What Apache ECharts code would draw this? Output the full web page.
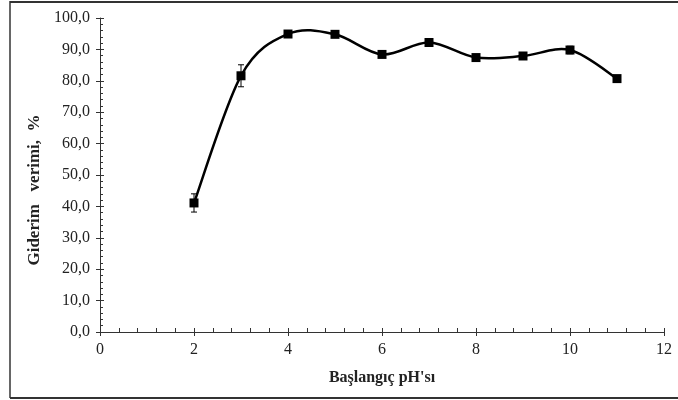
<!DOCTYPE html>
<html><head><meta charset="utf-8">
<script src="https://cdn.jsdelivr.net/npm/echarts@6/dist/echarts.min.js"></script>
<style>html,body{margin:0;padding:0;background:#fff}#c{width:678px;height:400px}</style>
</head><body><div id="c"></div>
<script>
const phValues = [2, 3, 4, 5, 6, 7, 8, 9, 10, 11];
const removalEff = [41.1, 81.6, 94.9, 94.8, 88.4, 92.2, 87.4, 87.9, 89.8, 80.7];
const errValues = [2.9, 3.5, 0.8, 0.8, 1.0, 0.8, 0.8, 0.8, 1.2, 0.8];
const xTitle = "Başlangıç pH'sı";
const yTitle = "Giderim   verimi,  %";

const lineData = phValues.map((x, i) => [x, removalEff[i]]);
const errData = phValues.map((x, i) => [x, removalEff[i] - errValues[i], removalEff[i] + errValues[i]]);

const chart = echarts.init(document.getElementById('c'), null, {renderer: 'canvas'});
const font = "'Liberation Serif', 'Times New Roman', serif";
const axisCol = '#333';
const labelCol = '#222';

function curveItem(params, api) {
  if (params.dataIndex !== 0) return null;
  const pts = lineData.map(d => api.coord(d));
  const n = pts.length;
  let d = 'M' + pts[0][0] + ' ' + pts[0][1];
  for (let i = 0; i < n - 1; i++) {
    const p0 = pts[Math.max(i - 1, 0)], p1 = pts[i], p2 = pts[i + 1], p3 = pts[Math.min(i + 2, n - 1)];
    const c1x = p1[0] + (p2[0] - p0[0]) / 6, c1y = p1[1] + (p2[1] - p0[1]) / 6;
    const c2x = p2[0] - (p3[0] - p1[0]) / 6, c2y = p2[1] - (p3[1] - p1[1]) / 6;
    d += ' C' + c1x + ' ' + c1y + ' ' + c2x + ' ' + c2y + ' ' + p2[0] + ' ' + p2[1];
  }
  return {type: 'path', shape: {pathData: d}, style: {fill: null, stroke: '#000', lineWidth: 2.5}};
}

chart.setOption({
  animation: false,
  backgroundColor: '#fff',
  graphic: [
    {type: 'line', shape: {x1: 10, y1: 2, x2: 678, y2: 2}, style: {stroke: '#333', lineWidth: 2}},
    {type: 'line', shape: {x1: 10, y1: 1, x2: 10, y2: 398}, style: {stroke: '#333', lineWidth: 1.5}},
    {type: 'line', shape: {x1: 10, y1: 398, x2: 678, y2: 398}, style: {stroke: '#333', lineWidth: 2}}
  ],
  grid: {left: 100, right: 14, top: 18, bottom: 68},
  xAxis: [{
    type: 'value', min: 0, max: 12, interval: 2,
    name: xTitle, nameLocation: 'middle', nameGap: 38,
    nameTextStyle: {fontFamily: font, fontWeight: 'bold', fontSize: 16, color: labelCol},
    axisLine: {show: true, lineStyle: {color: axisCol, width: 1}},
    axisTick: {show: true, inside: false, length: 4, lineStyle: {color: axisCol}},
    axisLabel: {fontFamily: font, fontSize: 16, color: labelCol, margin: 10},
    splitLine: {show: false}
  }, {
    type: 'value', min: 0, max: 12, interval: 2, position: 'bottom',
    axisLine: {show: false}, axisLabel: {show: false}, splitLine: {show: false},
    axisTick: {show: true, inside: true, length: 4, lineStyle: {color: axisCol}},
    minorTick: {show: true, splitNumber: 5, length: 4, lineStyle: {color: axisCol}}
  }],
  yAxis: [{
    type: 'value', min: 0, max: 100, interval: 10,
    name: yTitle, nameLocation: 'middle', nameGap: 57, nameRotate: 90,
    nameTextStyle: {fontFamily: font, fontWeight: 'bold', fontSize: 17, color: labelCol, padding: [0, 30, 0, 0]},
    axisLine: {show: true, lineStyle: {color: axisCol, width: 1}},
    axisTick: {show: true, length: 4, lineStyle: {color: axisCol}},
    axisLabel: {fontFamily: font, fontSize: 16, color: labelCol, margin: 10,
      formatter: v => v.toFixed(1).replace('.', ',')},
    splitLine: {show: false}
  }, {
    type: 'value', min: 0, max: 100, interval: 10, position: 'left',
    axisLine: {show: false}, axisLabel: {show: false}, splitLine: {show: false},
    axisTick: {show: true, inside: true, length: 4, lineStyle: {color: axisCol}},
    minorTick: {show: true, splitNumber: 5, length: 3, lineStyle: {color: axisCol}}
  }],
  series: [
    {
      type: 'custom', data: lineData, renderItem: curveItem, z: 2
    },
    {
      type: 'scatter', data: lineData,
      symbol: 'rect', symbolSize: 9,
      itemStyle: {color: '#000', opacity: 1}, z: 4
    },
    {
      type: 'custom', data: errData, z: 3,
      renderItem: function (params, api) {
        const x = api.value(0);
        const lo = api.coord([x, api.value(1)]);
        const hi = api.coord([x, api.value(2)]);
        const w = 3;
        const st = {stroke: '#000', lineWidth: 1};
        return {type: 'group', children: [
          {type: 'line', shape: {x1: lo[0], y1: lo[1], x2: hi[0], y2: hi[1]}, style: st},
          {type: 'line', shape: {x1: lo[0] - w, y1: lo[1], x2: lo[0] + w, y2: lo[1]}, style: st},
          {type: 'line', shape: {x1: hi[0] - w, y1: hi[1], x2: hi[0] + w, y2: hi[1]}, style: st}
        ]};
      }
    }
  ]
});
</script></body></html>
